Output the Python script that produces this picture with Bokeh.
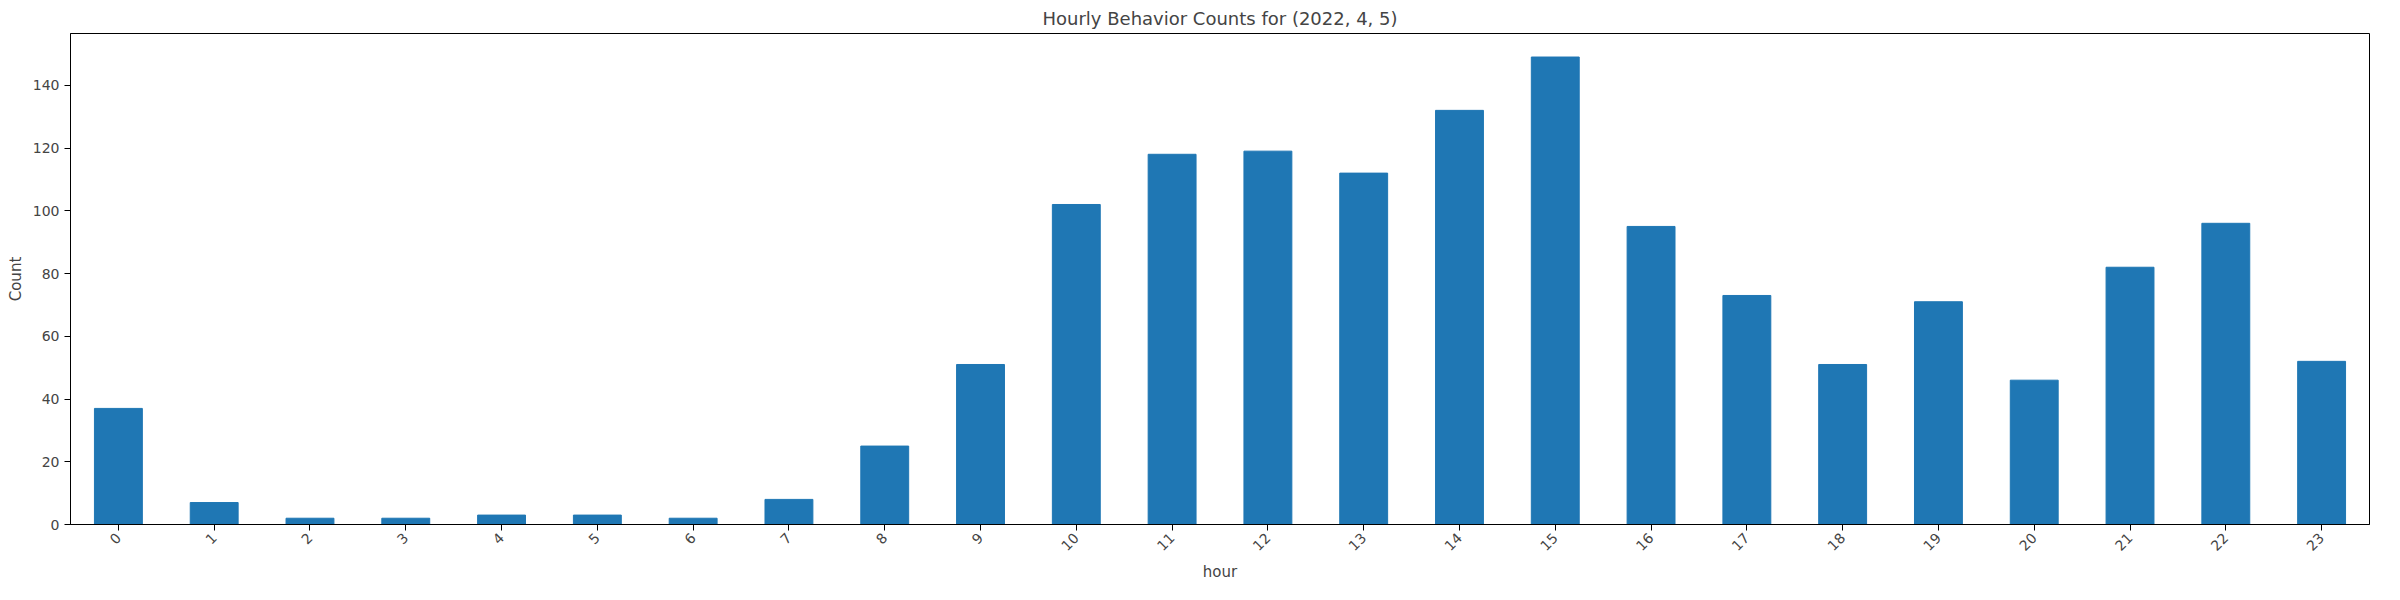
from math import pi

from bokeh.plotting import figure
from bokeh.models import FactorRange, Range1d, ColumnDataSource, FixedTicker
from bokeh.embed import file_html
from bokeh.resources import INLINE

hours = [str(h) for h in range(24)]
counts = [37, 7, 2, 2, 3, 3, 2, 8, 25, 51, 102, 118, 119, 112, 132, 149,
          95, 73, 51, 71, 46, 82, 96, 52]

source = ColumnDataSource(data={'hour': hours, 'count': counts})

p = figure(x_range=FactorRange(*hours, range_padding=0), y_range=Range1d(0, 156.5),
           width=2384, height=584, output_backend="svg", toolbar_location=None,
           title="Hourly Behavior Counts for (2022, 4, 5)")
p.vbar(x='hour', top='count', width=0.5, source=source, color="#1f77b4")

p.title.align = "center"
p.title.text_font = "DejaVu Sans"
p.title.text_font_style = "normal"
p.title.text_font_size = "18px"

p.xaxis.axis_label = "hour"
p.yaxis.axis_label = "Count"
p.xaxis.major_label_orientation = pi / 4
p.yaxis.ticker = FixedTicker(ticks=list(range(0, 141, 20)))
for ax in (p.xaxis[0], p.yaxis[0]):
    ax.axis_label_text_font = "DejaVu Sans"
    ax.axis_label_text_font_style = "normal"
    ax.axis_label_text_font_size = "15px"
    ax.major_label_text_font = "DejaVu Sans"
    ax.major_label_text_font_size = "14px"
    ax.minor_tick_line_color = None
    ax.major_tick_out = 6
    ax.major_tick_in = 0
    ax.axis_line_color = "black"

p.xgrid.grid_line_color = None
p.ygrid.grid_line_color = None
p.outline_line_color = "black"
p.outline_line_alpha = 1
p.min_border_left = 70
p.min_border_right = 15

open("out.html", "w").write(file_html(p, INLINE))
